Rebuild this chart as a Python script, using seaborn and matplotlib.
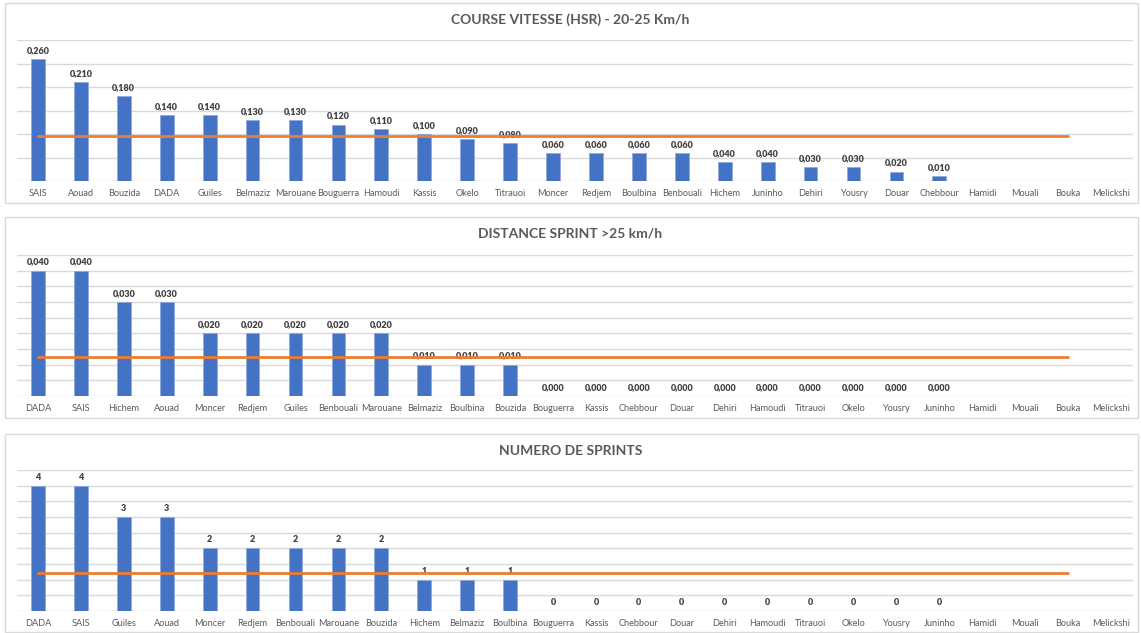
import numpy as np
import pandas as pd
import seaborn as sns
import matplotlib.pyplot as plt
from matplotlib.patches import Rectangle

# panel 1 : course vitesse (HSR)
hsr_names = ["SAIS", "Aouad", "Bouzida", "DADA", "Guiles", "Belmaziz", "Marouane", "Bouguerra",
             "Hamoudi", "Kassis", "Okelo", "Titrauoi", "Moncer", "Redjem", "Boulbina", "Benbouali",
             "Hichem", "Juninho", "Dehiri", "Yousry", "Douar", "Chebbour", "Hamidi", "Mouali",
             "Bouka", "Melickshi"]
hsr_values = [0.26, 0.21, 0.18, 0.14, 0.14, 0.13, 0.13, 0.12, 0.11, 0.10, 0.09, 0.08, 0.06,
              0.06, 0.06, 0.06, 0.04, 0.04, 0.03, 0.03, 0.02, 0.01]
hsr_avg = 0.0955

# panel 2 : distance sprint
sprint_names = ["DADA", "SAIS", "Hichem", "Aouad", "Moncer", "Redjem", "Guiles", "Benbouali",
                "Marouane", "Belmaziz", "Boulbina", "Bouzida", "Bouguerra", "Kassis", "Chebbour",
                "Douar", "Dehiri", "Hamoudi", "Titrauoi", "Okelo", "Yousry", "Juninho", "Hamidi",
                "Mouali", "Bouka", "Melickshi"]
sprint_values = [0.04, 0.04, 0.03, 0.03, 0.02, 0.02, 0.02, 0.02, 0.02, 0.01, 0.01, 0.01,
                 0, 0, 0, 0, 0, 0, 0, 0, 0, 0]
sprint_avg = 0.0123

# panel 3 : numero de sprints
count_names = ["DADA", "SAIS", "Guiles", "Aouad", "Moncer", "Redjem", "Benbouali", "Marouane",
               "Bouzida", "Hichem", "Belmaziz", "Boulbina", "Bouguerra", "Kassis", "Chebbour",
               "Douar", "Dehiri", "Hamoudi", "Titrauoi", "Okelo", "Yousry", "Juninho", "Hamidi",
               "Mouali", "Bouka", "Melickshi"]
count_values = [4, 4, 3, 3, 2, 2, 2, 2, 2, 1, 1, 1, 0, 0, 0, 0, 0, 0, 0, 0, 0, 0]
count_avg = 1.227

sns.set_theme(style="white")
plt.rcParams['font.family'] = ['Lato', 'DejaVu Sans']

W, H = 1141, 633
fig = plt.figure(figsize=(W / 100, H / 100), dpi=100)

BLUE = "#4472C4"
ORANGE = "#ED7D31"
GRID = "#D9D9D9"
TXT = "#595959"

panels = [
    ("COURSE VITESSE (HSR) - 20-25 Km/h", hsr_names, hsr_values, hsr_avg, 0.30, 0.05, "{:.3f}", (3, 203), 181),
    ("DISTANCE SPRINT >25 km/h", sprint_names, sprint_values, sprint_avg, 0.045, 0.005, "{:.3f}", (217, 418), 396),
    ("NUMERO DE SPRINTS", count_names, count_values, count_avg, 4.5, 0.5, "{:.0f}", (434, 632), 611),
]

for title, names, values, avg, ymax, step, fmt, box, base in panels:
    # cadre du panneau
    fig.patches.append(Rectangle((5 / W, 1 - box[1] / H), 1133 / W, (box[1] - box[0]) / H,
                                 transform=fig.transFigure, fill=False, edgecolor=GRID, lw=1))
    ax = fig.add_axes([16.5 / W, (H - base) / H, 1116 / W, 141 / H])
    df = pd.DataFrame({"name": names[:len(values)], "value": values})
    sns.barplot(data=df, x="name", y="value", order=names, color=BLUE, width=0.32,
                saturation=1, edgecolor="#8FAADC", linewidth=0.6, ax=ax)
    labels = [fmt.format(v).replace(".", ",") for v in values]
    ax.bar_label(ax.containers[0], labels=labels, padding=3, fontsize=6.5,
                 fontweight="heavy", color="#404040")
    ax.plot([0, len(names) - 2], [avg, avg], color=ORANGE, lw=2, zorder=3)
    ax.set_xlim(-0.5, len(names) - 0.5)
    ax.set_ylim(0, ymax)
    ax.set_yticks(np.arange(0, ymax + step / 2, step))
    ax.set_yticklabels([])
    ax.tick_params(axis="y", length=0)
    ax.tick_params(axis="x", length=0, pad=6, labelsize=6.6, labelcolor=TXT)
    ax.grid(axis="y", color=GRID, lw=1)
    ax.set_axisbelow(True)
    for s in ax.spines.values():
        s.set_visible(False)
    ax.set_xlabel("")
    ax.set_ylabel("")
    fig.text(0.5, 1 - (box[0] + 17) / H, title, ha="center", va="center",
             fontsize=10, fontweight="bold", color=TXT)

fig.savefig("out.png", dpi=100)
